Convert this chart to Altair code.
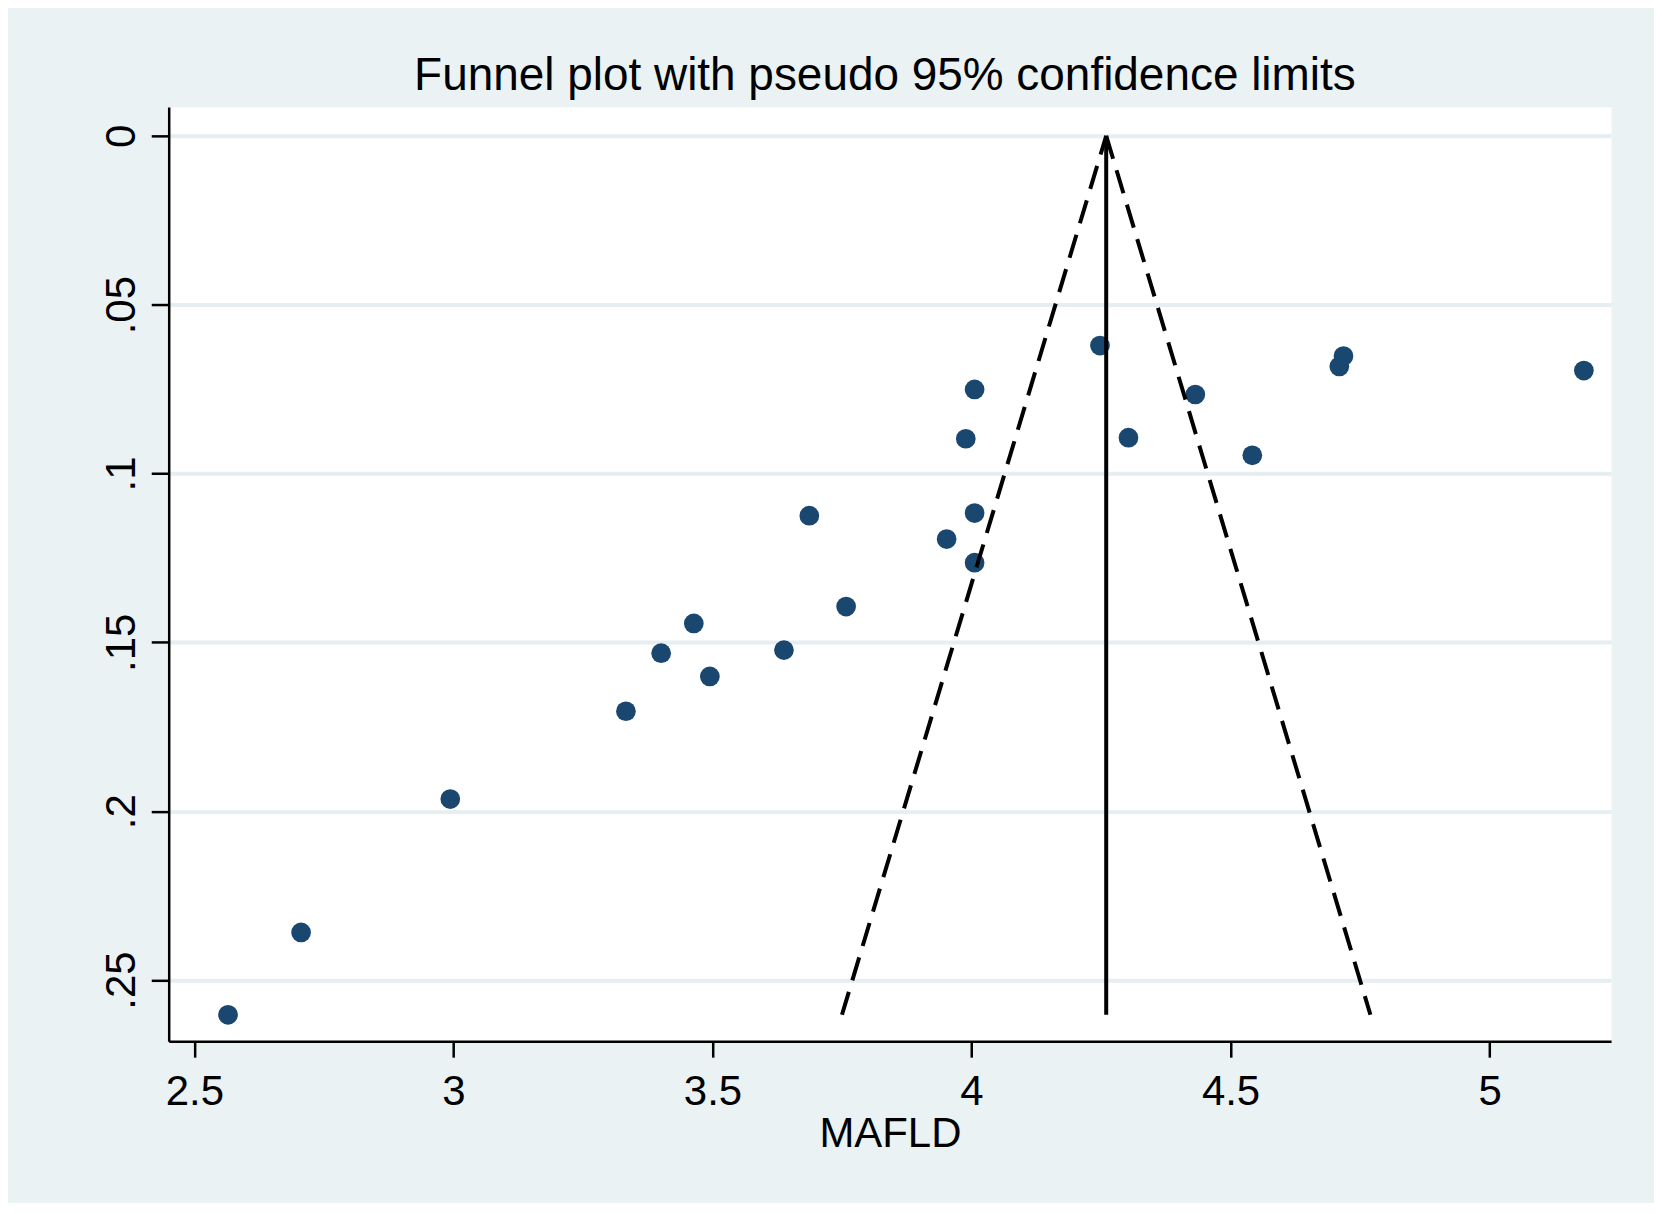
import altair as alt
import pandas as pd

# ---- data ----
mafld_effect = [2.565, 2.706, 2.994, 3.333, 3.401, 3.464, 3.495, 3.638, 3.687, 3.758,
                3.952, 4.006, 4.006, 3.989, 4.006, 4.248, 4.303, 4.432, 4.542, 4.710,
                4.718, 5.182]
mafld_se = [0.2603, 0.2359, 0.1964, 0.1704, 0.1532, 0.1444, 0.1601, 0.1523, 0.1125, 0.1394,
            0.1194, 0.1264, 0.1117, 0.0897, 0.0751, 0.0621, 0.0894, 0.0766, 0.0946, 0.0683,
            0.0652, 0.0695]

# pooled estimate line and pseudo 95% limits (end points)
pooled_x = [4.260, 4.260]
pooled_se = [0.0, 0.2603]
lower_x = [4.260, 3.750]
upper_x = [4.260, 4.770]
limit_se = [0.0, 0.2603]

x_ticks = [2.5, 3, 3.5, 4, 4.5, 5]
x_labels = ["2.5", "3", "3.5", "4", "4.5", "5"]
y_ticks = [0, 0.05, 0.1, 0.15, 0.2, 0.25]
y_labels = ["0", ".05", ".1", ".15", ".2", ".25"]

title_text = "Funnel plot with pseudo 95% confidence limits"
x_title = "MAFLD"

# ---- tables ----
pts = pd.DataFrame({"effect": mafld_effect, "se": mafld_se})
pooled = pd.DataFrame({"effect": pooled_x, "se": pooled_se})
limits = pd.DataFrame({
    "effect": lower_x + upper_x,
    "se": limit_se + limit_se,
    "side": ["lower"] * len(lower_x) + ["upper"] * len(upper_x),
})


def label_expr(vals, labs):
    parts = []
    for v, l in zip(vals, labs):
        parts.append(f"abs(datum.value - {v}) < 1e-9 ? '{l}'")
    return " : ".join(parts) + " : ''"


FONT = "Liberation Sans"
x_scale = alt.Scale(domain=[2.4505, 5.2345], nice=False, zero=False)
y_scale = alt.Scale(domain=[-0.00857, 0.26812], nice=False, zero=False, reverse=True)

x_axis = alt.Axis(
    values=x_ticks, labelExpr=label_expr(x_ticks, x_labels), grid=False,
    tickSize=16, tickWidth=2.5, tickColor="black",
    domainColor="black", domainWidth=2.5,
    labelFont=FONT, labelFontSize=42, labelColor="black", labelPadding=14,
    labelFlush=False, labelOverlap=False,
    title=x_title, titleFont=FONT, titleFontSize=42, titleFontWeight="normal",
    titleColor="black", titleBaseline="alphabetic", titleY=105,
)
y_axis = alt.Axis(
    values=y_ticks, labelExpr=label_expr(y_ticks, y_labels),
    grid=True, gridColor="#E6EEF1", gridWidth=4,
    tickSize=17.5, tickWidth=2.5, tickColor="black",
    domainColor="black", domainWidth=2.5,
    labelFont=FONT, labelFontSize=42, labelColor="black", labelPadding=8,
    labelAngle=270, labelAlign="center", labelBaseline="bottom",
    labelFlush=False, labelOverlap=False,
    title=None,
)

points = alt.Chart(pts).mark_circle(size=390, color="#1A476F", opacity=1).encode(
    x=alt.X("effect:Q", scale=x_scale, axis=x_axis),
    y=alt.Y("se:Q", scale=y_scale, axis=y_axis),
)

pooled_line = alt.Chart(pooled).mark_line(color="black", strokeWidth=4).encode(
    x=alt.X("effect:Q", scale=x_scale),
    y=alt.Y("se:Q", scale=y_scale),
)

limit_lines = alt.Chart(limits).mark_line(
    color="black", strokeWidth=4, strokeDash=[24, 12]
).encode(
    x=alt.X("effect:Q", scale=x_scale),
    y=alt.Y("se:Q", scale=y_scale),
    detail="side:N",
)

chart = alt.layer(points, pooled_line, limit_lines).properties(
    width=1445,
    height=936,
    title=alt.TitleParams(
        text=title_text, font=FONT, fontSize=46, fontWeight="normal", color="black",
        anchor="middle", frame="group", baseline="bottom", offset=5, dx=-5, dy=44,
    ),
    autosize=alt.AutoSizeParams(type="none"),
    padding={"left": 161, "top": 98, "right": 43, "bottom": 161},
    background="#EAF2F3",
).configure_view(
    fill="white", stroke="transparent"
)

chart.save("out.html", embed_options={"renderer": "svg", "actions": False})
